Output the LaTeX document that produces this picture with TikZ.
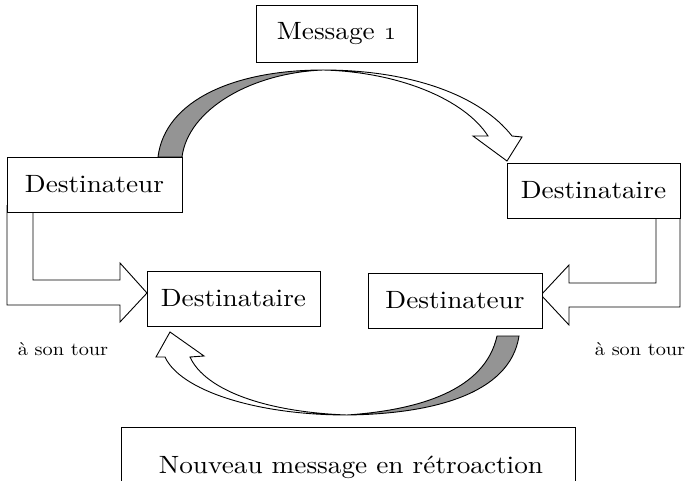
\documentclass[tikz,border=0pt]{standalone}
\usepackage{fontspec}
\setmainfont{lmroman10-regular}[Extension=.otf,FakeStretch=1.09]
\newcommand\osone{{\fontencoding{OML}\fontfamily{cmm}\fontseries{m}\fontshape{it}\selectfont 1}}
\begin{document}
\begin{tikzpicture}[x=1pt,y=-1pt,
  box/.style={draw,line width=0.9pt,fill=white,inner sep=0pt,font=\fontsize{25}{30}\selectfont},
  lbl/.style={inner sep=0pt,font=\fontsize{18.6}{22}\selectfont},
  outl/.style={draw,line width=0.9pt,line join=miter},
  back/.style={outl,fill=black!42},
  front/.style={outl,fill=white}]
\useasboundingbox (0,0) rectangle (687,481);

% L-shaped arrows (drawn under the boxes)
\draw[front] (7,205) -- (7,305) -- (120,305) -- (120,322) -- (147,293) -- (120,263) -- (120,280) -- (33,280) -- (33,205);
\draw[front] (680,210) -- (680,307) -- (569,307) -- (569,325) -- (541,295) -- (569,265) -- (569,283) -- (656,283) -- (656,210);

% boxes
\node[box,minimum width=161pt,minimum height=57pt] (msg) at (336.5,33.5) {Message \osone};
\node[box,minimum width=175pt,minimum height=55pt] (d1) at (94.5,184.5) {Destinateur};
\node[box,minimum width=173pt,minimum height=55pt] (r1) at (593.5,190.5) {Destinataire};
\node[box,minimum width=173pt,minimum height=55pt] (r2) at (233.5,298.5) {Destinataire};
\node[box,minimum width=174pt,minimum height=55pt] (d2) at (455,300.5) {Destinateur};
\node[lbl,font=\fontsize{25}{30}\selectfont,anchor=base] (nm) at (351,473) {Nouveau message en r\'etroaction};
\draw[line width=0.9pt] (121,490) -- (121,427) -- (575,427) -- (575,490);

\node[lbl,anchor=base] (t1) at (63,355) {\`a son tour};
\node[lbl,anchor=base] (t2) at (640,355) {\`a son tour};

% top ribbon arrow
\draw[back] (158,157) .. controls (165,100) and (235,70) .. (323,70)
  .. controls (250,73) and (188,110) .. (182,157) -- cycle;
\draw[front] (323,70) .. controls (410,70) and (480,95) .. (512,136)
  -- (522,137) -- (507,161) -- (473,136) -- (488,136)
  .. controls (465,100) and (400,72) .. (323,70) -- cycle;

% bottom ribbon arrow
\draw[back] (519,336) .. controls (510,395) and (430,414) .. (347,415)
  .. controls (420,410) and (485,390) .. (497,336) -- cycle;
\draw[front] (347,415) .. controls (255,415) and (180,390) .. (165,357)
  -- (156,357) -- (170,332) -- (204,356) -- (190,357)
  .. controls (205,390) and (265,412) .. (347,415) -- cycle;
\end{tikzpicture}
\end{document}
